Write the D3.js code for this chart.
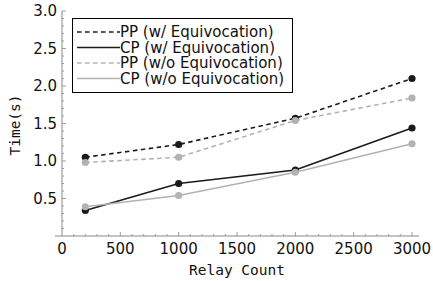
<!DOCTYPE html>
<html><head><meta charset="utf-8">
<script src="https://cdn.jsdelivr.net/npm/d3@7"></script>
<style>body{margin:0;background:#fff}svg{display:block}</style>
</head><body><svg id="c" width="433" height="281"></svg>
<script>
const relayCounts = [200, 1000, 2000, 3000];
const ppWith = [1.05, 1.22, 1.57, 2.10];
const cpWith = [0.34, 0.70, 0.88, 1.44];
const ppWithout = [0.98, 1.05, 1.54, 1.84];
const cpWithout = [0.39, 0.54, 0.85, 1.23];
const seriesNames = ["PP (w/ Equivocation)", "CP (w/ Equivocation)", "PP (w/o Equivocation)", "CP (w/o Equivocation)"];
const xTickValues = [0, 500, 1000, 1500, 2000, 2500, 3000];
const yTickValues = [0.5, 1.0, 1.5, 2.0, 2.5, 3.0];

const svg = d3.select("#c");
const x = d3.scaleLinear().domain([0, 3000]).range([62, 412]);
const y = d3.scaleLinear().domain([0, 3]).range([236, 11]);
const BLACK = "#1a1a1a", GRAY = "#b2b2b2";
const series = [
  {name: seriesNames[0], vals: ppWith, color: BLACK, dash: "4.5,3.5"},
  {name: seriesNames[1], vals: cpWith, color: BLACK, dash: null},
  {name: seriesNames[2], vals: ppWithout, color: GRAY, dash: "4.5,3.5"},
  {name: seriesNames[3], vals: cpWithout, color: GRAY, dash: null}
];

// spines
svg.append("line").attr("x1", x(-60)).attr("x2", x(3060)).attr("y1", y(0)).attr("y2", y(0))
  .attr("stroke", "#888").attr("stroke-width", 1);
svg.append("line").attr("x1", x(0)).attr("x2", x(0)).attr("y1", y(0)).attr("y2", y(3))
  .attr("stroke", "#888").attr("stroke-width", 1);

// x ticks
const xMinor = d3.range(100, 3001, 100);
svg.append("g").selectAll("line").data(xMinor).join("line")
  .attr("x1", d => x(d)).attr("x2", d => x(d))
  .attr("y1", y(0)).attr("y2", d => y(0) - (d % 500 === 0 ? 4 : 2))
  .attr("stroke", "#888").attr("stroke-width", 0.8);
svg.append("g").selectAll("text").data(xTickValues).join("text")
  .attr("x", d => x(d)).attr("y", 254).attr("text-anchor", "middle")
  .attr("font-family", "DejaVu Sans").attr("font-size", 15).attr("fill", "#111")
  .text(d => d);

// y ticks
const yMinor = d3.range(1, 31).map(i => i / 10);
svg.append("g").selectAll("line").data(yMinor).join("line")
  .attr("x1", x(0)).attr("x2", (d, i) => x(0) + ((i + 1) % 5 === 0 ? 4 : 2))
  .attr("y1", d => y(d)).attr("y2", d => y(d))
  .attr("stroke", "#888").attr("stroke-width", 0.8);
svg.append("g").selectAll("text").data(yTickValues).join("text")
  .attr("x", 57).attr("y", d => y(d)).attr("dy", "0.36em").attr("text-anchor", "end")
  .attr("font-family", "DejaVu Sans").attr("font-size", 15).attr("fill", "#111")
  .text(d => d.toFixed(1));

// axis titles
svg.append("text").attr("x", 237).attr("y", 275).attr("text-anchor", "middle")
  .attr("font-family", "DejaVu Sans Mono").attr("font-size", 14.5).attr("fill", "#111")
  .text("Relay Count");
svg.append("text").attr("transform", "translate(20,125) rotate(-90)").attr("text-anchor", "middle")
  .attr("font-family", "DejaVu Sans Mono").attr("font-size", 14.5).attr("fill", "#111")
  .text("Time(s)");

// lines and points
const line = d3.line().x((d, i) => x(relayCounts[i])).y(d => y(d));
series.forEach(s => {
  const g = svg.append("g");
  g.append("path").attr("d", line(s.vals)).attr("fill", "none")
    .attr("stroke", s.color).attr("stroke-width", 1.6)
    .attr("stroke-dasharray", s.dash);
  g.selectAll("circle").data(s.vals).join("circle")
    .attr("cx", (d, i) => x(relayCounts[i])).attr("cy", d => y(d)).attr("r", 3.6)
    .attr("fill", s.color);
});

// legend
const lg = svg.append("g");
lg.append("rect").attr("x", 72.5).attr("y", 18.5).attr("width", 220).attr("height", 74)
  .attr("fill", "#fff").attr("stroke", "#000").attr("stroke-width", 1);
series.forEach((s, i) => {
  const cy = 32 + i * 15.5;
  lg.append("line").attr("x1", 77).attr("x2", 120).attr("y1", cy).attr("y2", cy)
    .attr("stroke", s.color).attr("stroke-width", 1.6).attr("stroke-dasharray", s.dash);
  lg.append("text").attr("x", 120).attr("y", cy).attr("dy", "0.36em")
    .attr("font-family", "DejaVu Sans").attr("font-size", 15).attr("fill", "#111")
    .text(s.name);
});
</script></body></html>
